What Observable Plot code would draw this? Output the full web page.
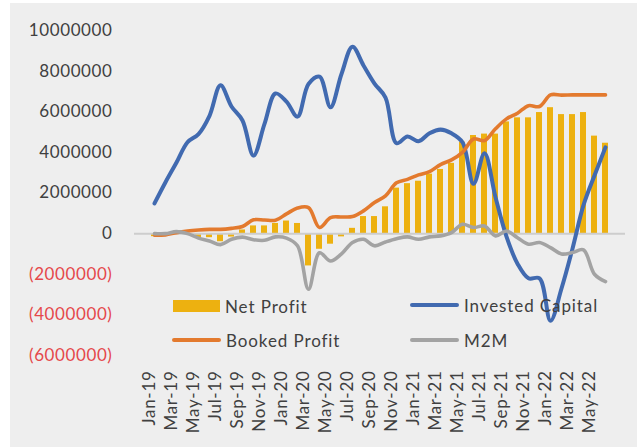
<!DOCTYPE html>
<html>
<head>
<meta charset="utf-8">
<script src="https://cdn.jsdelivr.net/npm/d3@7"></script>
<script src="https://cdn.jsdelivr.net/npm/@observablehq/plot@0.6"></script>
<style>
  body { margin: 0; background: #ffffff; }
  #wrap { position: relative; width: 638px; height: 448px; overflow: hidden; }
  #chart { position: absolute; left: 10px; top: 3px; }
  .leg { position: absolute; height: 24px; display: flex; align-items: center;
         font-family: Lato, "Open Sans", sans-serif; font-size: 17px; color: #404040; white-space: nowrap; letter-spacing: 0.9px; }
  .sw { display: inline-block; margin-right: 5px; }
  .ytick { letter-spacing: 0.6px; }
  .xtick { letter-spacing: 0.7px; }
</style>
</head>
<body>
<div id="wrap">
  <div id="chart"></div>
</div>
<script>
const months = ["Jan-19","Feb-19","Mar-19","Apr-19","May-19","Jun-19","Jul-19","Aug-19","Sep-19","Oct-19","Nov-19","Dec-19",
  "Jan-20","Feb-20","Mar-20","Apr-20","May-20","Jun-20","Jul-20","Aug-20","Sep-20","Oct-20","Nov-20","Dec-20",
  "Jan-21","Feb-21","Mar-21","Apr-21","May-21","Jun-21","Jul-21","Aug-21","Sep-21","Oct-21","Nov-21","Dec-21",
  "Jan-22","Feb-22","Mar-22","Apr-22","May-22","Jun-22"];

const xTickLabels = ["Jan-19","Mar-19","May-19","Jul-19","Sep-19","Nov-19","Jan-20","Mar-20","May-20","Jul-20","Sep-20","Nov-20",
  "Jan-21","Mar-21","May-21","Jul-21","Sep-21","Nov-21","Jan-22","Mar-22","May-22"];

const yTicks = [-6000000,-4000000,-2000000,0,2000000,4000000,6000000,8000000,10000000];

const netProfit = [-150000,-100000,20000,20000,-200000,-200000,-400000,-170000,180000,380000,380000,500000,
  620000,500000,-1590000,-770000,-520000,-160000,260000,840000,840000,1320000,2240000,2460000,
  2580000,2930000,3160000,3460000,4500000,4830000,4900000,4900000,5500000,5700000,5700000,5960000,
  6200000,5860000,5860000,5960000,4800000,4450000];

const investedCapital = [1490000,2530000,3500000,4500000,4900000,5800000,7300000,6260000,5570000,3840000,5400000,6900000,
  6500000,5760000,7370000,7730000,6220000,7860000,9200000,8280000,7390000,6700000,4450000,4780000,
  4550000,4940000,5120000,4940000,4500000,2450000,3960000,1790000,-150000,-1480000,-2200000,-2200000,
  -4290000,-2700000,-740000,1400000,2860000,4250000];

const bookedProfit = [-80000,-60000,50000,130000,180000,210000,210000,260000,350000,680000,670000,660000,
  970000,1260000,1280000,300000,790000,820000,840000,1120000,1530000,1860000,2500000,2670000,
  2890000,3050000,3400000,3630000,4000000,4660000,4580000,5160000,5650000,5930000,6300000,6260000,
  6830000,6820000,6830000,6830000,6830000,6830000];

const m2m = [0,0,100000,0,-220000,-360000,-540000,-280000,-170000,-300000,-330000,-160000,
  -220000,-600000,-2740000,-940000,-1350000,-1000000,-440000,-280000,-600000,-410000,-250000,-160000,
  -280000,-160000,-110000,50000,460000,300000,380000,-110000,130000,-200000,-520000,-440000,
  -690000,-1000000,-930000,-800000,-2000000,-2360000];

const seriesNames = ["Net Profit","Invested Capital","Booked Profit","M2M"];
const seriesColors = ["#EDB110","#416AB0","#E37A2E","#A3A3A3"];

const rows = months.map((m, i) => ({month: m, net: netProfit[i], inv: investedCapital[i], booked: bookedProfit[i], m2m: m2m[i]}));

const fmt = d => d < 0 ? `(${-d})` : `${d}`;
const font = "Lato, 'Open Sans', sans-serif";

const chart = Plot.plot({
  width: 627,
  height: 444,
  marginLeft: 124,
  marginRight: 12,
  marginTop: 27,
  marginBottom: 92,
  style: {background: "#eeeeee", fontFamily: font, color: "#404040", overflow: "visible"},
  x: {type: "band", domain: months, paddingInner: 0.42, paddingOuter: 0.21, axis: null},
  y: {domain: [-6000000, 10000000], axis: null},
  marks: [
    Plot.barY(rows, {x: "month", y: "net", fill: seriesColors[0]}),
    Plot.ruleY([0], {stroke: "#cdcdcd", strokeWidth: 2}),
    Plot.line(rows, {x: "month", y: "inv", stroke: seriesColors[1], strokeWidth: 4, curve: "catmull-rom"}),
    Plot.line(rows, {x: "month", y: "booked", stroke: seriesColors[2], strokeWidth: 3.6, curve: "catmull-rom"}),
    Plot.line(rows, {x: "month", y: "m2m", stroke: seriesColors[3], strokeWidth: 3.6, curve: "catmull-rom"}),
    Plot.text(yTicks, {y: d => d, frameAnchor: "left", dx: -22, textAnchor: "end", text: fmt,
      fill: d => d < 0 ? "#E5484B" : "#404040", fontSize: 17, className: "ytick"}),
    Plot.text(xTickLabels, {x: d => d, frameAnchor: "bottom", rotate: -90, textAnchor: "end", dy: 15,
      text: d => d, fill: "#404040", fontSize: 17, className: "xtick"})
  ]
});
document.getElementById("chart").appendChild(chart);

// legend (overlay inside the plot area)
const wrap = document.getElementById("wrap");
const legendPos = [
  {left: 173, cy: 306},
  {left: 410, cy: 305},
  {left: 172, cy: 340},
  {left: 410, cy: 340}
];
seriesNames.forEach((name, i) => {
  const item = document.createElement("div");
  item.className = "leg";
  item.style.left = legendPos[i].left + "px";
  item.style.top = (legendPos[i].cy - 12) + "px";
  const sw = document.createElement("span");
  sw.className = "sw";
  if (i === 0) {
    sw.style.width = "47px"; sw.style.height = "12px";
  } else {
    sw.style.width = "49px"; sw.style.height = "4px"; sw.style.borderRadius = "2px";
  }
  sw.style.background = seriesColors[i];
  const tx = document.createElement("span");
  tx.textContent = name;
  item.appendChild(sw);
  item.appendChild(tx);
  wrap.appendChild(item);
});
</script>
</body>
</html>
